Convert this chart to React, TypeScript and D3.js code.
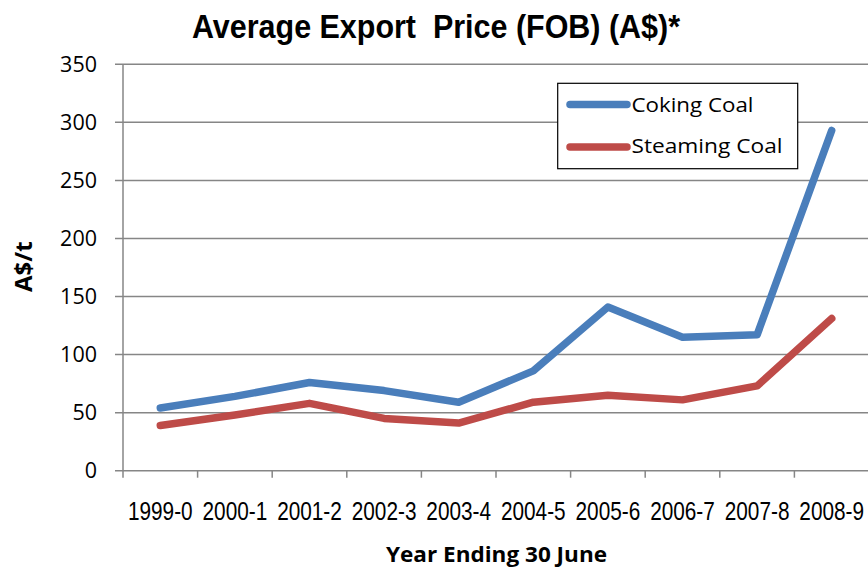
import React from 'react';
import * as d3 from 'd3';

const years = ['1999-0', '2000-1', '2001-2', '2002-3', '2003-4', '2004-5', '2005-6', '2006-7', '2007-8', '2008-9'];
const coking = [54, 64, 76, 69, 59, 86, 141, 115, 117, 293];
const steaming = [39, 48, 58, 45, 41, 59, 65, 61, 73, 131];
const yTicks = [0, 50, 100, 150, 200, 250, 300, 350];

const W = 868;
const H = 569;
const left = 123;
const right = 869;
const top = 64.3;
const bottom = 470.7;

const series = [
  { name: 'Coking Coal', values: coking, color: '#4A7EBB', len: 122 },
  { name: 'Steaming Coal', values: steaming, color: '#BE4B48', len: 151 },
];

const App = () => {
  const x = d3.scaleBand<string>().domain(years).range([left, right]);
  const y = d3.scaleLinear().domain([0, 350]).range([bottom, top]);
  const line = d3.line<number>()
    .x((_, i) => (x(years[i]) as number) + x.bandwidth() / 2)
    .y(d => y(d));

  const arial = '"Liberation Sans", Arial, sans-serif';
  const calibri = '"Open Sans", sans-serif';
  const grid = '#868686';

  return (
    <svg width={W} height={H} style={{ position: 'absolute', left: 0, top: 0, background: '#fff' }}>
      <text x={192} y={37.5} textLength={488} lengthAdjust="spacingAndGlyphs" xmlSpace="preserve"
        style={{ whiteSpace: 'pre' }} fontFamily={arial} fontWeight="bold" fontSize={33.5} fill="#000">
        Average Export  Price (FOB) (A$)*
      </text>

      {yTicks.map(t => (
        <g key={t}>
          <line x1={115} x2={right} y1={y(t)} y2={y(t)} stroke={grid} strokeWidth={1.5} />
          <text x={97} y={y(t)} dy="0.36em" textAnchor="end" fontFamily={calibri} fontSize={21.5} fill="#000">{t}</text>
        </g>
      ))}
      <line x1={left} x2={left} y1={top} y2={bottom + 7} stroke={grid} strokeWidth={1.5} />
      {years.map(yr => (
        <g key={yr}>
          <line x1={(x(yr) as number) + x.bandwidth()} x2={(x(yr) as number) + x.bandwidth()} y1={bottom} y2={bottom + 7} stroke={grid} strokeWidth={1.5} />
          <text transform={`translate(${(x(yr) as number) + x.bandwidth() / 2},520) scale(0.815,1)`} textAnchor="middle"
            fontFamily={arial} fontSize={25.5} fill="#000">{yr}</text>
        </g>
      ))}

      {series.map(s => (
        <path key={s.name} d={line(s.values) as string} fill="none" stroke={s.color} strokeWidth={7.5} strokeLinecap="round" strokeLinejoin="round" />
      ))}

      <rect x={557.7} y={83.3} width={240} height={85.4} fill="#fff" stroke="#000" strokeWidth={1.2} />
      {series.map((s, i) => (
        <g key={s.name}>
          <line x1={570} x2={627} y1={104.5 + i * 42.5} y2={104.5 + i * 42.5} stroke={s.color} strokeWidth={7.5} strokeLinecap="round" />
          <text x={631.5} y={112 + i * 41} textLength={s.len} lengthAdjust="spacingAndGlyphs" fontFamily={calibri} fontSize={19.5} fill="#000">{s.name}</text>
        </g>
      ))}

      <text transform="translate(31.7,266.7) rotate(-90)" textAnchor="middle" fontFamily={calibri} fontWeight="bold" fontSize={24} fill="#000">A$/t</text>
      <text x={386} y={562} textLength={221} lengthAdjust="spacingAndGlyphs" fontFamily={calibri} fontWeight="bold" fontSize={21.5} fill="#000">Year Ending 30 June</text>
    </svg>
  );
};

export default App;
